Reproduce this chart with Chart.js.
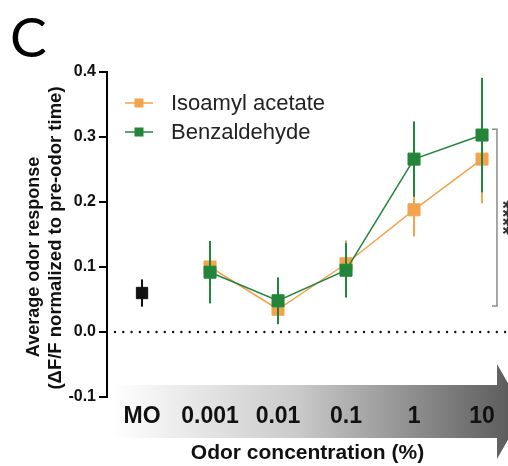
<!DOCTYPE html>
<html>
<head>
<meta charset="utf-8">
<script src="https://cdn.jsdelivr.net/npm/chart.js@4"></script>
<style>
  html, body { margin: 0; padding: 0; background: #fff; }
  #wrap { width: 508px; height: 466px; position: relative; }
</style>
</head>
<body>
<div id="wrap"><canvas id="odorChart"></canvas></div>
<script>
// Categories (x) and tick values (y)
const concLabels = ['MO', '0.001', '0.01', '0.1', '1', '10'];
const yTicks = [-0.1, 0, 0.1, 0.2, 0.3, 0.4];

// Mineral oil control
const moMean = [0.060];
const moSem = [0.021];

// Odor series, one value per concentration 0.001 .. 10
const isoamylMean = [0.100, 0.035, 0.105, 0.188, 0.266];
const isoamylSem = [0.035, 0.020, 0.036, 0.041, 0.068];
const benzMean = [0.092, 0.048, 0.095, 0.266, 0.303];
const benzSem = [0.048, 0.036, 0.042, 0.058, 0.088];

// Significance bracket
const sigRange = [0.040, 0.312];
const sigX = 5.22;
const sigLabel = '****';

const ORANGE = '#F4A34D';
const GREEN = '#23853A';
const FONT = '"Liberation Sans", Arial, sans-serif';

const toPoints = (means, start) => means.map((m, i) => ({ x: i + start, y: m }));

// Error bars, drawn just before each dataset so stacking matches
const errorBars = {
  id: 'errorBars',
  beforeDatasetDraw(chart, args) {
    const ds = chart.data.datasets[args.index];
    if (!ds.sem) return;
    const { ctx, scales: { x, y } } = chart;
    ctx.save();
    ctx.strokeStyle = ds.borderColor;
    ctx.lineWidth = 2;
    ds.data.forEach((p, i) => {
      const px = x.getPixelForValue(p.x);
      ctx.beginPath();
      ctx.moveTo(px, y.getPixelForValue(p.y + ds.sem[i]));
      ctx.lineTo(px, y.getPixelForValue(p.y - ds.sem[i]));
      ctx.stroke();
    });
    ctx.restore();
  }
};

// Arrow behind the x labels, zero line, legend, bracket, panel letter
const decor = {
  id: 'decor',
  beforeDraw(chart) {
    const { ctx, chartArea: a } = chart;
    const top = a.bottom - 12, bot = a.bottom + 41, mid = (top + bot) / 2;
    const headX = chart.width - 11;
    const g = ctx.createLinearGradient(a.left + 5, 0, chart.width + 16, 0);
    g.addColorStop(0, '#ffffff');
    g.addColorStop(0.45, '#cacaca');
    g.addColorStop(1, '#555555');
    ctx.save();
    ctx.fillStyle = g;
    ctx.beginPath();
    ctx.moveTo(a.left + 5, top);
    ctx.lineTo(headX, top);
    ctx.lineTo(headX, top - 21);
    ctx.lineTo(chart.width + 16, mid);
    ctx.lineTo(headX, bot + 21);
    ctx.lineTo(headX, bot);
    ctx.lineTo(a.left + 5, bot);
    ctx.closePath();
    ctx.fill();
    ctx.restore();
  },
  afterDraw(chart) {
    const { ctx, chartArea: a, scales: { x, y } } = chart;
    ctx.save();

    // dotted zero line
    const y0 = y.getPixelForValue(0);
    ctx.strokeStyle = '#111';
    ctx.lineWidth = 2.4;
    ctx.lineCap = 'round';
    ctx.setLineDash([0, 8.3]);
    ctx.beginPath();
    ctx.moveTo(a.left + 8, y0);
    ctx.lineTo(a.right, y0);
    ctx.stroke();
    ctx.setLineDash([]);
    ctx.lineCap = 'butt';

    // significance bracket
    const bx = x.getPixelForValue(sigX);
    const b1 = y.getPixelForValue(sigRange[1]);
    const b0 = y.getPixelForValue(sigRange[0]);
    ctx.strokeStyle = '#8a8a8a';
    ctx.lineWidth = 1.5;
    ctx.beginPath();
    ctx.moveTo(bx - 5, b1);
    ctx.lineTo(bx, b1);
    ctx.lineTo(bx, b0);
    ctx.lineTo(bx - 5, b0);
    ctx.stroke();
    ctx.save();
    ctx.translate(bx - 0.5, (b0 + b1) / 2);
    ctx.rotate(Math.PI / 2);
    ctx.fillStyle = '#333';
    ctx.font = 'bold 22px ' + FONT;
    ctx.textAlign = 'center';
    ctx.textBaseline = 'alphabetic';
    ctx.fillText(sigLabel, 0, 0);
    ctx.restore();

    // legend
    const rows = [chart.data.datasets[1], chart.data.datasets[0]];
    rows.forEach((ds, i) => {
      const ly = a.top + 31 + i * 29;
      ctx.strokeStyle = ds.borderColor;
      ctx.lineWidth = 1.5;
      ctx.beginPath();
      ctx.moveTo(a.left + 18, ly);
      ctx.lineTo(a.left + 46, ly);
      ctx.stroke();
      ctx.fillStyle = ds.backgroundColor;
      ctx.fillRect(a.left + 27.5, ly - 4.5, 9, 9);
      ctx.fillStyle = '#222';
      ctx.font = '22px ' + FONT;
      ctx.textAlign = 'left';
      ctx.textBaseline = 'middle';
      ctx.fillText(ds.label, a.left + 64, ly + 1);
    });

    // y axis title, two lines
    ctx.fillStyle = '#111';
    ctx.textAlign = 'center';
    ctx.textBaseline = 'alphabetic';
    [['Average odor response', 38.5, 257, 18], ['(\u0394F/F normalized to pre-odor time)', 61, 238, 18.5]].forEach(([t, tx, ty, fs]) => {
      ctx.save();
      ctx.font = 'bold ' + fs + 'px ' + FONT;
      ctx.translate(tx, ty);
      ctx.rotate(-Math.PI / 2);
      ctx.fillText(t, 0, 0);
      ctx.restore();
    });

    // panel letter
    ctx.fillStyle = '#000';
    ctx.font = '55px Lato, "Open Sans", sans-serif';
    ctx.textAlign = 'left';
    ctx.fillText('C', 10, 57);
    ctx.restore();
  }
};

const ctx = document.getElementById('odorChart').getContext('2d');

new Chart(ctx, {
  type: 'line',
  data: {
    datasets: [
      {
        label: 'Benzaldehyde',
        data: toPoints(benzMean, 1),
        sem: benzSem,
        borderColor: GREEN,
        backgroundColor: GREEN,
        borderWidth: 1.5,
        pointStyle: 'rect',
        pointRadius: 8.5,
        pointBorderWidth: 1,
        order: 0
      },
      {
        label: 'Isoamyl acetate',
        data: toPoints(isoamylMean, 1),
        sem: isoamylSem,
        borderColor: ORANGE,
        backgroundColor: ORANGE,
        borderWidth: 1.5,
        pointStyle: 'rect',
        pointRadius: 8.5,
        pointBorderWidth: 1,
        order: 1
      },
      {
        label: 'MO',
        data: toPoints(moMean, 0),
        sem: moSem,
        borderColor: '#111',
        backgroundColor: '#111',
        showLine: false,
        pointStyle: 'rect',
        pointRadius: 8,
        pointBorderWidth: 1,
        order: 2
      }
    ]
  },
  options: {
    responsive: true,
    maintainAspectRatio: false,
    animation: false,
    layout: { autoPadding: false, padding: { top: 72, left: 0, right: 0, bottom: 0 } },
    scales: {
      x: {
        type: 'linear',
        min: -0.515,
        max: 5.382,
        afterBuildTicks: (s) => { s.ticks = concLabels.map((l, i) => ({ value: i })); },
        afterFit: (s) => { s.height = 69; s.paddingLeft = 0; s.paddingRight = 0; },
        grid: { display: false, drawTicks: false },
        border: { display: false },
        ticks: {
          autoSkip: false,
          maxRotation: 0,
          padding: 6,
          color: '#111',
          font: { family: FONT, size: 23, weight: 'bold' },
          callback: (v) => concLabels[v]
        },
        title: {
          display: true,
          text: 'Odor concentration (%)',
          color: '#111',
          padding: { top: 0, bottom: 0 },
          font: { family: FONT, size: 21, weight: 'bold' }
        }
      },
      y: {
        min: -0.1,
        max: 0.4,
        afterBuildTicks: (s) => { s.ticks = yTicks.map(v => ({ value: v })); },
        afterFit: (s) => { s.width = 107; },
        grid: { drawOnChartArea: false, drawTicks: true, tickLength: 8, color: '#000', lineWidth: 2 },
        border: { display: true, color: '#000', width: 2 },
        ticks: {
          padding: 3,
          color: '#111',
          font: { family: FONT, size: 16, weight: 'bold' },
          callback: (v) => v.toFixed(1)
        }
      }
    },
    plugins: {
      legend: { display: false },
      tooltip: { enabled: false }
    }
  },
  plugins: [errorBars, decor]
});
</script>
</body>
</html>
